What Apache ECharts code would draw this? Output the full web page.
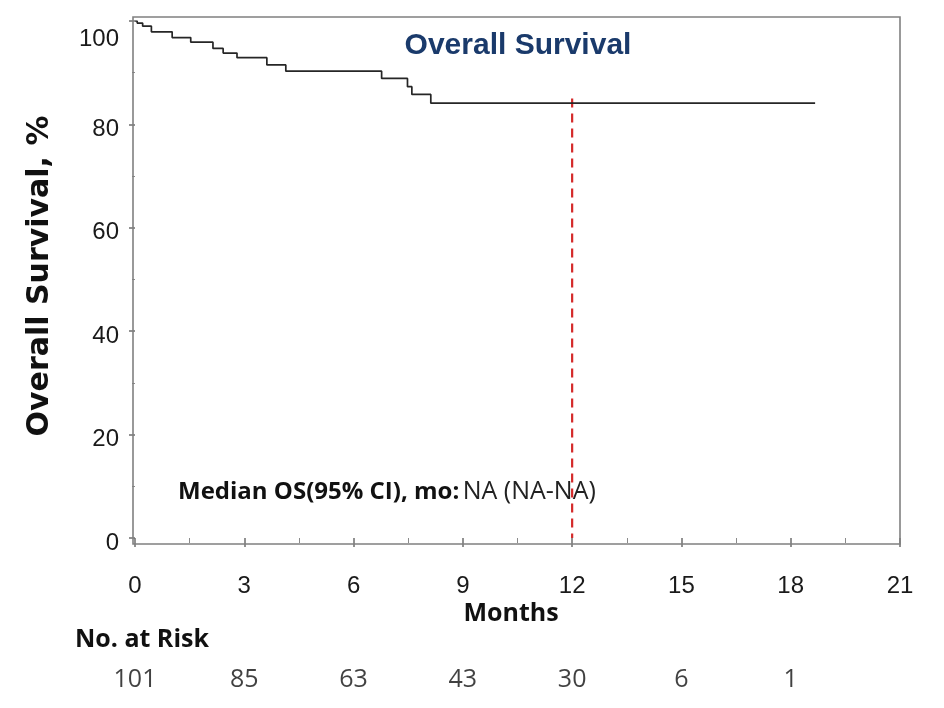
<!DOCTYPE html>
<html>
<head>
<meta charset="utf-8">
<script src="https://cdn.jsdelivr.net/npm/echarts@6/dist/echarts.min.js"></script>
<style>
html,body{margin:0;padding:0;background:#fff;}
#chart{width:944px;height:708px;}
</style>
</head>
<body>
<div id="chart"></div>
<script>
// Kaplan-Meier overall survival (months, % surviving after each step)
const months   = [0, 0.06, 0.21, 0.45, 1.02, 1.53, 2.14, 2.42, 2.80, 3.62, 4.14, 6.77, 7.48, 7.60, 8.12, 18.67];
const survival = [100, 99.6, 99.0, 97.9, 96.8, 95.9, 94.7, 93.8, 92.9, 91.5, 90.3, 88.9, 87.3, 85.8, 84.1, 84.1];

// reference line at 12 months
const refLineX = [12, 12];
const refLineY = [85, 0];

// number at risk
const riskTimes  = [0, 3, 6, 9, 12, 15, 18];
const riskCounts = [101, 85, 63, 43, 30, 6, 1];

// axes
const xMin = 0, xMax = 21, xStep = 3;
const yMin = 0, yMax = 100, yStep = 20;

const titleText = 'Overall Survival';
const yTitle = 'Overall Survival, %';
const xTitle = 'Months';
const riskTitle = 'No. at Risk';
const medianLabel = 'Median OS(95% CI), mo:';
const medianValue = 'NA (NA-NA)';

const chart = echarts.init(document.getElementById('chart'), null, {renderer: 'canvas'});

const curveData = months.map((m, i) => [m, survival[i]]);
const refData = refLineX.map((x, i) => [x, refLineY[i]]);
const riskData = riskTimes.map((t, i) => [t, 0.5, riskCounts[i]]);

const option = {
  animation: false,
  backgroundColor: '#ffffff',
  grid: [
    {left: 135, right: 44, top: 21, bottom: 170},
    {left: 135, right: 44, top: 664, height: 32}
  ],
  xAxis: [
    {
      type: 'value', gridIndex: 0, min: xMin, max: xMax, interval: xStep,
      offset: 6,
      axisLine: {show: false},
      axisTick: {show: true, length: 9, lineStyle: {color: '#6e6e6e', width: 1.5}},
      minorTick: {show: true, splitNumber: 2, length: 5, lineStyle: {color: '#8a8a8a', width: 1}},
      splitLine: {show: false},
      axisLabel: {margin: 30, fontFamily: 'Liberation Sans', fontSize: 24, color: '#1a1a1a'}
    },
    {
      type: 'value', gridIndex: 1, min: xMin, max: xMax, show: false
    }
  ],
  yAxis: [
    {
      type: 'value', gridIndex: 0, min: yMin, max: yMax, interval: yStep,
      offset: 2,
      axisLine: {show: false},
      axisTick: {show: true, length: 6, lineStyle: {color: '#6e6e6e', width: 1.5}},
      minorTick: {show: true, splitNumber: 2, length: 3, lineStyle: {color: '#8a8a8a', width: 1}},
      splitLine: {show: false},
      axisLabel: {
        margin: 14, fontFamily: 'Liberation Sans', fontSize: 24, color: '#1a1a1a',
        padding: [10, 0, 0, 0],
        formatter: v => v === yMax ? '{t|' + v + '}' : String(v),
        rich: {t: {fontFamily: 'Liberation Sans', fontSize: 24, color: '#1a1a1a', padding: [26, 0, 0, 0]}}
      }
    },
    {
      type: 'value', gridIndex: 1, min: 0, max: 1, show: false
    }
  ],
  series: [
    {
      type: 'line', xAxisIndex: 0, yAxisIndex: 0,
      data: curveData, step: 'end', showSymbol: false, symbol: 'none',
      lineStyle: {color: '#262626', width: 1.7}, z: 3
    },
    {
      type: 'line', xAxisIndex: 0, yAxisIndex: 0,
      data: refData, showSymbol: false, symbol: 'none',
      lineStyle: {color: '#d42a2a', width: 2.2, type: [9, 6]}, z: 2
    },
    {
      type: 'scatter', xAxisIndex: 1, yAxisIndex: 1,
      data: riskData, symbolSize: 0,
      label: {
        show: true, position: 'inside',
        formatter: p => String(p.value[2]),
        fontFamily: 'Open Sans', fontSize: 25, color: '#111'
      }
    }
  ],
  graphic: [
    {
      type: 'rect', silent: true, z: 1,
      shape: {x: 133, y: 17, width: 767, height: 527},
      style: {fill: 'none', stroke: '#808080', lineWidth: 1.6}
    },
    {
      type: 'text', x: 518, y: 46,
      style: {text: titleText, align: 'center', verticalAlign: 'middle',
        font: 'bold 30px "Liberation Sans"', fill: '#1a3a6b'}
    },
    {
      type: 'text', x: 40, y: 276, rotation: Math.PI / 2,
      style: {text: yTitle, align: 'center', verticalAlign: 'middle',
        font: 'bold 30px "DejaVu Sans"', fill: '#111'}
    },
    {
      type: 'text', x: 511, y: 614,
      style: {text: xTitle, align: 'center', verticalAlign: 'middle',
        font: 'bold 25px "Open Sans"', fill: '#111'}
    },
    {
      type: 'text', x: 75, y: 640,
      style: {text: riskTitle, align: 'left', verticalAlign: 'middle',
        font: 'bold 25px "Open Sans"', fill: '#111'}
    },
    {
      type: 'text', x: 178, y: 492,
      style: {
        text: '{b|' + medianLabel + '} {r|' + medianValue + '}',
        align: 'left', verticalAlign: 'middle',
        rich: {
          b: {fontFamily: 'Open Sans', fontWeight: 'bold', fontSize: 24, fill: '#111'},
          r: {fontFamily: 'Open Sans', fontWeight: 'normal', fontSize: 25, fill: '#222'}
        }
      }
    }
  ]
};

chart.setOption(option);
</script>
</body>
</html>
